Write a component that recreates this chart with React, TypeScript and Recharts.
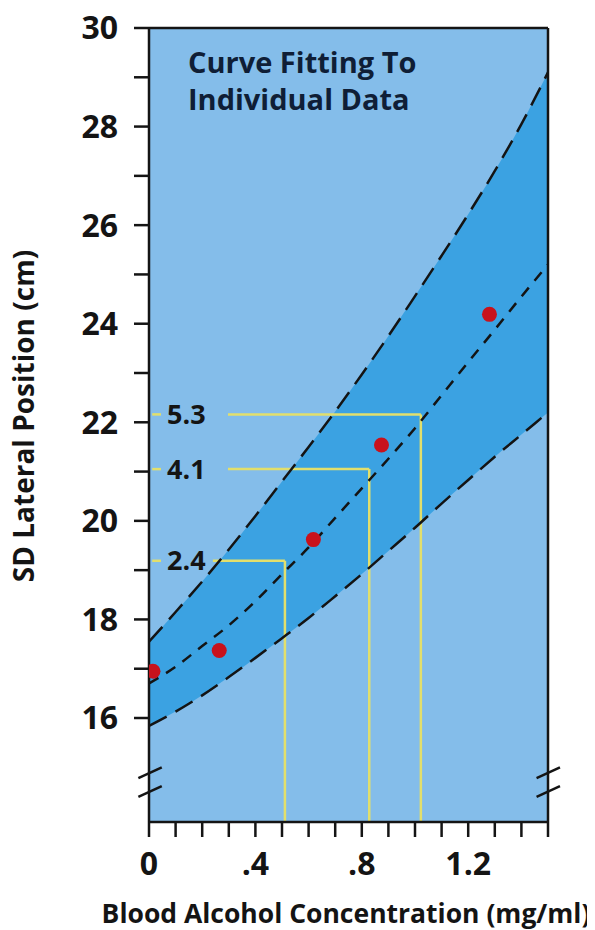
import React from "react";
import {
  Area,
  CartesianGrid,
  ComposedChart,
  Line,
  ReferenceDot,
  ReferenceLine,
  Scatter,
  XAxis,
  YAxis
} from "recharts";

// fitted curve and 95% band at 0.1 mg/ml steps
const bac = [0, 0.1, 0.2, 0.3, 0.4, 0.5, 0.6, 0.7, 0.8, 0.9, 1.0, 1.1, 1.2, 1.3, 1.4, 1.5];
const upperCurve = [17.55, 18.15, 18.77, 19.42, 20.1, 20.8, 21.5, 22.22, 22.97, 23.75, 24.56, 25.38, 26.22, 27.1, 28.05, 29.1];
const fitCurve = [16.7, 17.04, 17.46, 17.88, 18.37, 18.92, 19.46, 20.06, 20.66, 21.26, 21.88, 22.55, 23.22, 23.88, 24.55, 25.2];
const lowerCurve = [15.84, 16.13, 16.46, 16.83, 17.22, 17.62, 18.03, 18.47, 18.92, 19.39, 19.86, 20.35, 20.83, 21.3, 21.75, 22.2];

// individual data points
const pointBac = [0.015, 0.264, 0.618, 0.874, 1.28];
const pointSd = [16.95, 17.37, 19.62, 21.54, 24.19];

// yellow read-offs
const effectLabels = ["2.4", "4.1", "5.3"];
const effectSd = [19.19, 21.05, 22.16];
const effectBac = [0.511, 0.828, 1.022];
const effectGapEnd = [0.24, 0.297, 0.297];

const xTicks = bac;
const xTickText = ["0", "", "", "", ".4", "", "", "", ".8", "", "", "", "1.2", "", "", ""];
const yTicks = [16, 17, 18, 19, 20, 21, 22, 23, 24, 25, 26, 27, 28, 29, 30];

const Y_MIN = 13.89;
const FONT = "'Open Sans', sans-serif";
const INK = "#141414";
const LIGHT = "#84bdea";
const BAND = "#3ba2e2";
const YELLOW = "#e2df6c";
const RED = "#c8121c";

const rows = bac.map((x, i) => ({
  x,
  upper: upperCurve[i],
  fit: fitCurve[i],
  lower: lowerCurve[i],
  band: [lowerCurve[i], upperCurve[i]]
}));

const points = pointBac.map((x, i) => ({ x, y: pointSd[i] }));

const tickStyle = { fill: INK, fontSize: 32, fontWeight: 700, fontFamily: FONT };

export default function App() {
  return (
    <ComposedChart
      width={587}
      height={922}
      data={rows}
      margin={{ top: 20, right: 47, bottom: 0, left: 0 }}
      style={{ fontFamily: FONT }}
    >
      <CartesianGrid fill={LIGHT} horizontal={false} vertical={false} />
      <XAxis
        type="number"
        dataKey="x"
        domain={[0, 1.5]}
        ticks={xTicks}
        interval={0}
        tickFormatter={(_v: number, i: number) => xTickText[i]}
        tick={tickStyle}
        tickSize={15}
        tickMargin={15}
        height={108}
        axisLine={{ stroke: INK, strokeWidth: 2.5 }}
        tickLine={{ stroke: INK, strokeWidth: 2.5 }}
        allowDataOverflow
        label={{
          content: () => (
            <text
              x={338}
              y={915}
              textAnchor="middle"
              fill={INK}
              fontSize={26.5}
              fontWeight={700}
              fontFamily={FONT}
            >
              Blood Alcohol Concentration (mg/ml)
            </text>
          )
        }}
      />
      <YAxis
        type="number"
        domain={[Y_MIN, 30]}
        ticks={yTicks}
        interval={0}
        tickFormatter={(v: number) => (v % 2 === 0 ? String(v) : "")}
        tick={tickStyle}
        tickSize={15}
        tickMargin={16}
        width={141}
        axisLine={{ stroke: INK, strokeWidth: 2.5 }}
        tickLine={{ stroke: INK, strokeWidth: 2.5 }}
        allowDataOverflow
        label={{
          content: () => (
            <text
              x={26}
              y={408}
              transform="rotate(-90 26 408)"
              textAnchor="middle"
              fill={INK}
              fontSize={28}
              fontWeight={700}
              fontFamily={FONT}
            >
              SD Lateral Position (cm)
            </text>
          )
        }}
      />
      <Area
        type="monotone"
        dataKey="band"
        fill={BAND}
        fillOpacity={1}
        stroke="none"
        isAnimationActive={false}
      />
      {effectLabels.map((lab, i) => (
        <ReferenceLine
          key={"a" + lab}
          segment={[{ x: 0.012, y: effectSd[i] }, { x: 0.045, y: effectSd[i] }]}
          stroke={YELLOW}
          strokeWidth={2.5}
        />
      ))}
      {effectLabels.map((lab, i) => (
        <ReferenceLine
          key={"b" + lab}
          segment={[{ x: effectGapEnd[i], y: effectSd[i] }, { x: effectBac[i], y: effectSd[i] }]}
          stroke={YELLOW}
          strokeWidth={2.5}
        />
      ))}
      {effectLabels.map((lab, i) => (
        <ReferenceLine
          key={"c" + lab}
          segment={[{ x: effectBac[i], y: effectSd[i] }, { x: effectBac[i], y: Y_MIN }]}
          stroke={YELLOW}
          strokeWidth={2.5}
        />
      ))}
      {effectLabels.map((lab, i) => (
        <ReferenceDot
          key={"d" + lab}
          x={0.068}
          y={effectSd[i]}
          r={0}
          fill="none"
          stroke="none"
          label={{
            value: lab,
            position: "right",
            offset: 0,
            fill: INK,
            fontSize: 27,
            fontWeight: 700,
            fontFamily: FONT
          }}
        />
      ))}
      <Line
        type="monotone"
        dataKey="upper"
        stroke={INK}
        strokeWidth={2.5}
        strokeDasharray="20 10"
        dot={false}
        isAnimationActive={false}
      />
      <Line
        type="monotone"
        dataKey="lower"
        stroke={INK}
        strokeWidth={2.5}
        strokeDasharray="20 10"
        dot={false}
        isAnimationActive={false}
      />
      <Line
        type="monotone"
        dataKey="fit"
        stroke={INK}
        strokeWidth={2.5}
        strokeDasharray="11 9"
        dot={false}
        isAnimationActive={false}
      />
      <Scatter
        data={points}
        dataKey="y"
        isAnimationActive={false}
        shape={(p: any) => <circle cx={p.cx} cy={p.cy} r={7.5} fill={RED} />}
      />
      <ReferenceLine y={30} stroke={INK} strokeWidth={2.5} />
      <ReferenceLine x={1.5} stroke={INK} strokeWidth={2.5} />
      {[14.78, 14.4].map((y) => (
        <ReferenceLine
          key={"bl" + y}
          segment={[{ x: -0.04, y }, { x: 0.048, y: y + 0.22 }]}
          stroke={INK}
          strokeWidth={2.5}
          ifOverflow="visible"
        />
      ))}
      {[14.78, 14.4].map((y) => (
        <ReferenceLine
          key={"br" + y}
          segment={[{ x: 1.457, y }, { x: 1.545, y: y + 0.22 }]}
          stroke={INK}
          strokeWidth={2.5}
          ifOverflow="visible"
        />
      ))}
      <text x={180} y={65} fill="#0f1e36" fontSize={29} fontWeight={700} fontFamily={FONT}>
        Curve Fitting To
      </text>
      <text x={180} y={102} fill="#0f1e36" fontSize={29} fontWeight={700} fontFamily={FONT}>
        Individual Data
      </text>
    </ComposedChart>
  );
}
